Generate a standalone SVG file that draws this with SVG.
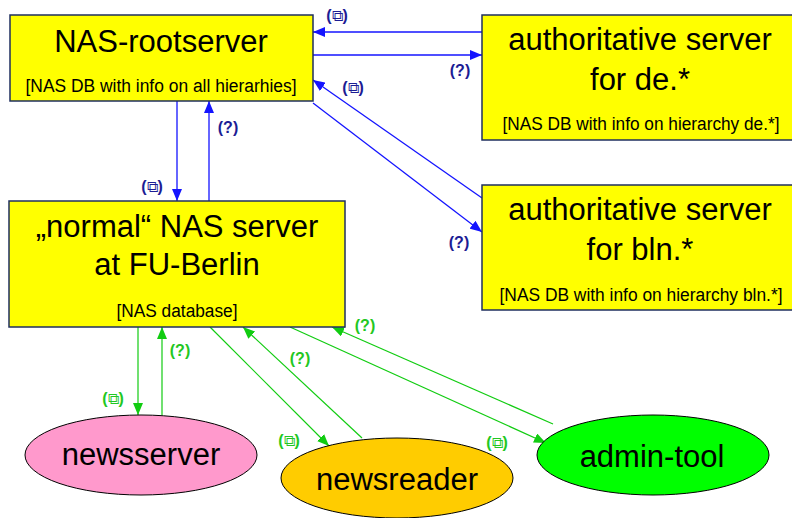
<svg xmlns="http://www.w3.org/2000/svg" width="792" height="518" viewBox="0 0 792 518">
<style>
.box{fill:#ffff00;stroke:#1f2f5f;stroke-width:1.5}
.ell{stroke:#000;stroke-width:1}
.t{font-family:"Liberation Sans",Arial,sans-serif;font-size:31px;fill:#000;text-anchor:middle}
.s{font-family:"Liberation Sans",Arial,sans-serif;font-size:18px;fill:#000;text-anchor:middle}
.bl{stroke:#1414ff;stroke-width:1.3;fill:none}
.gr{stroke:#11cc11;stroke-width:1.2;fill:none}
.lb{font-family:"Liberation Sans","DejaVu Sans",sans-serif;font-size:16px;font-weight:bold;text-anchor:middle;fill:#1c1c94}
.lg{font-family:"Liberation Sans","DejaVu Sans",sans-serif;font-size:16px;font-weight:bold;text-anchor:middle;fill:#22c722}
.ic{font-family:"DejaVu Sans",sans-serif;font-weight:normal;font-size:16px}
</style>
<defs>
<marker id="ab" viewBox="0 0 12 10" refX="12" refY="5" markerWidth="12" markerHeight="10" markerUnits="userSpaceOnUse" orient="auto"><path d="M0,0 L12,5 L0,10 z" fill="#1414ff"/></marker>
<marker id="ag" viewBox="0 0 12 10" refX="12" refY="5" markerWidth="12" markerHeight="10" markerUnits="userSpaceOnUse" orient="auto"><path d="M0,0 L12,5 L0,10 z" fill="#11cc11"/></marker>
</defs>
<rect width="792" height="518" fill="#fff"/>

<g id="connectors">
<line class="bl" x1="482" y1="32" x2="313" y2="32" marker-end="url(#ab)"/>
<line class="bl" x1="313" y1="55" x2="482" y2="55" marker-end="url(#ab)"/>
<line class="bl" x1="482" y1="198" x2="313" y2="80" marker-end="url(#ab)"/>
<line class="bl" x1="313" y1="103" x2="482" y2="232" marker-end="url(#ab)"/>
<line class="bl" x1="177" y1="101" x2="177" y2="201" marker-end="url(#ab)"/>
<line class="bl" x1="209" y1="201" x2="209" y2="101" marker-end="url(#ab)"/>
<line class="gr" x1="138" y1="327" x2="138" y2="415" marker-end="url(#ag)"/>
<line class="gr" x1="162" y1="415" x2="162" y2="327" marker-end="url(#ag)"/>
<line class="gr" x1="210" y1="327" x2="329" y2="446" marker-end="url(#ag)"/>
<line class="gr" x1="362" y1="438" x2="243" y2="327" marker-end="url(#ag)"/>
<line class="gr" x1="290" y1="327" x2="546" y2="443" marker-end="url(#ag)"/>
<line class="gr" x1="553" y1="424" x2="332" y2="327" marker-end="url(#ag)"/>
<text class="lb" x="337" y="21">(<tspan class="ic">⧉</tspan>)</text>
<text class="lb" x="460" y="76">(?)</text>
<text class="lb" x="353" y="93">(<tspan class="ic">⧉</tspan>)</text>
<text class="lb" x="459" y="248">(?)</text>
<text class="lb" x="152" y="192">(<tspan class="ic">⧉</tspan>)</text>
<text class="lb" x="228" y="133">(?)</text>
<text class="lg" x="180" y="356">(?)</text>
<text class="lg" x="113" y="404">(<tspan class="ic">⧉</tspan>)</text>
<text class="lg" x="300" y="364">(?)</text>
<text class="lg" x="365" y="331">(?)</text>
<text class="lg" x="289" y="446">(<tspan class="ic">⧉</tspan>)</text>
<text class="lg" x="497" y="448">(<tspan class="ic">⧉</tspan>)</text>
</g>

<g id="rootserver">
<rect class="box" x="10" y="15" width="303" height="86"/>
<text class="t" x="161" y="52">NAS-rootserver</text>
<text class="s" x="161" y="92" textLength="271" lengthAdjust="spacingAndGlyphs">[NAS DB with info on all hierarhies]</text>
</g>

<g id="auth-de">
<rect class="box" x="482" y="15" width="312" height="125"/>
<text class="t" x="640" y="50">authoritative server</text>
<text class="t" x="640" y="90">for de.*</text>
<text class="s" x="641" y="130" textLength="277" lengthAdjust="spacingAndGlyphs">[NAS DB with info on hierarchy de.*]</text>
</g>

<g id="auth-bln">
<rect class="box" x="482" y="185" width="312" height="125"/>
<text class="t" x="640" y="220">authoritative server</text>
<text class="t" x="640" y="260">for bln.*</text>
<text class="s" x="641" y="301" textLength="283" lengthAdjust="spacingAndGlyphs">[NAS DB with info on hierarchy bln.*]</text>
</g>

<g id="fu-server">
<rect class="box" x="9" y="201" width="336" height="126"/>
<text class="t" x="177" y="237">„normal“ NAS server</text>
<text class="t" x="177" y="275">at FU-Berlin</text>
<text class="s" x="177" y="317" textLength="121" lengthAdjust="spacingAndGlyphs">[NAS database]</text>
</g>

<g id="newsserver">
<ellipse class="ell" cx="141" cy="455" rx="116" ry="40" fill="#ff99cc"/>
<text class="t" x="141" y="465">newsserver</text>
</g>

<g id="newsreader">
<ellipse class="ell" cx="397" cy="478" rx="116" ry="40" fill="#ffcc00"/>
<text class="t" x="397" y="490">newsreader</text>
</g>

<g id="admin-tool">
<ellipse class="ell" cx="653" cy="455" rx="116" ry="40" fill="#00ff00"/>
<text class="t" x="652" y="467">admin-tool</text>
</g>
</svg>
